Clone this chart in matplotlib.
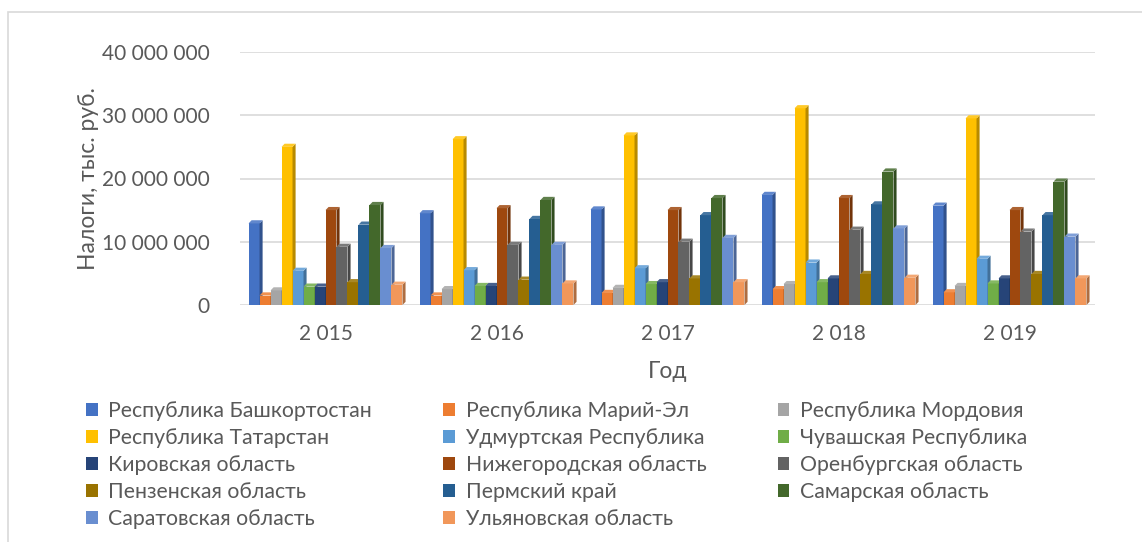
import matplotlib
matplotlib.use("Agg")
import matplotlib.pyplot as plt
from matplotlib.patches import Polygon, Rectangle
from matplotlib.ticker import FuncFormatter
import matplotlib.colors as mcolors
import numpy as np

plt.rcParams['font.family'] = ['Lato', 'DejaVu Sans']

years = ["2 015", "2 016", "2 017", "2 018", "2 019"]
regions = [
    "Республика Башкортостан", "Республика Марий-Эл", "Республика Мордовия",
    "Республика Татарстан", "Удмуртская Республика", "Чувашская Республика",
    "Кировская область", "Нижегородская область", "Оренбургская область",
    "Пензенская область", "Пермский край", "Самарская область",
    "Саратовская область", "Ульяновская область",
]
colors = ["#4472C4", "#ED7D31", "#A5A5A5", "#FFC000", "#5B9BD5", "#70AD47",
          "#264478", "#9E480E", "#636363", "#997300", "#255E91", "#43682B",
          "#698ED0", "#F1975A"]

# values, millions (axis is in thousand rubles; scaled by 1e6 when drawn)
bashkortostan = [13.4, 15.0, 15.6, 17.9, 16.2]
mari_el       = [2.0, 2.0, 2.4, 3.0, 2.5]
mordovia      = [2.8, 3.0, 3.2, 3.8, 3.5]
tatarstan     = [25.5, 26.7, 27.3, 31.6, 30.0]
udmurtia      = [5.9, 6.0, 6.3, 7.2, 7.8]
chuvashia     = [3.4, 3.5, 3.8, 4.1, 3.9]
kirov         = [3.4, 3.5, 4.1, 4.7, 4.7]
nizhny        = [15.5, 15.8, 15.5, 17.4, 15.5]
orenburg      = [9.7, 10.0, 10.5, 12.4, 12.1]
penza         = [4.1, 4.5, 4.7, 5.4, 5.4]
perm          = [13.2, 14.1, 14.7, 16.4, 14.7]
samara        = [16.3, 17.1, 17.4, 21.6, 20.0]
saratov       = [9.5, 10.0, 11.1, 12.6, 11.3]
ulyanovsk     = [3.7, 3.9, 4.1, 4.8, 4.7]

series = [bashkortostan, mari_el, mordovia, tatarstan, udmurtia, chuvashia,
          kirov, nizhny, orenburg, penza, perm, samara, saratov, ulyanovsk]

fig = plt.figure(figsize=(11.42, 5.42), dpi=100)
W, H = 1142, 542
fig.patches.append(Rectangle((8 / W, -0.1), 1.2, 1 - 12 / H + 0.1, transform=fig.transFigure,
                             fill=False, edgecolor="#D9D9D9", linewidth=1.2))

ax = fig.add_axes([240 / W, 1 - 305 / H, 855 / W, 253 / H])
ax.set_xlim(-0.5, 4.5)
ax.set_ylim(0, 40e6)

n = len(series)
bw = 0.0643
x = np.arange(len(years))
dx = 0.018
dy = 0.5e6
text_c = "#595959"

def shade(c, f):
    r, g, b = mcolors.to_rgb(c)
    return (r * f, g * f, b * f)

def tint(c, f):
    r, g, b = mcolors.to_rgb(c)
    return (r + (1 - r) * f, g + (1 - g) * f, b + (1 - b) * f)

handles = []
for i, (vals, col) in enumerate(zip(series, colors)):
    v = np.array(vals) * 1e6
    xs = x + (i - (n - 1) / 2) * bw
    z = 3 + i
    front = v - dy  # the 3D top face reaches the value
    bars = ax.bar(xs, front, width=bw, color=col, zorder=z, linewidth=0, label=regions[i])
    handles.append(bars)
    for xc, val in zip(xs, front):
        x0, x1 = xc - bw / 2, xc + bw / 2
        side = Polygon([(x1, 0), (x1 + dx, dy), (x1 + dx, val + dy), (x1, val)],
                       closed=True, facecolor=shade(col, 0.72), edgecolor="none", zorder=z)
        top = Polygon([(x0, val), (x1, val), (x1 + dx, val + dy), (x0 + dx, val + dy)],
                      closed=True, facecolor=tint(col, 0.15), edgecolor="none", zorder=z)
        ax.add_patch(side)
        ax.add_patch(top)

ax.set_yticks(np.arange(0, 40e6 + 1, 10e6))
ax.yaxis.set_major_formatter(FuncFormatter(lambda v, p: f"{int(v):,}".replace(",", " ")))
ax.grid(axis="y", color="#D9D9D9", linewidth=1.2, zorder=0)
ax.set_axisbelow(True)
ax.set_xticks(x)
ax.set_xticklabels(years)
for s in ax.spines.values():
    s.set_visible(False)
ax.tick_params(axis="both", length=0, colors=text_c, labelsize=15)
ax.tick_params(axis="y", pad=22)
ax.tick_params(axis="x", pad=14)

ax.set_ylabel("Налоги, тыс. руб.", fontsize=16.5, color=text_c, labelpad=2)
ax.set_xlabel("Год", fontsize=16.5, color=text_c, labelpad=12)

order = [0, 3, 6, 9, 12, 1, 4, 7, 10, 13, 2, 5, 8, 11]
leg = fig.legend([handles[k] for k in order], [regions[k] for k in order],
                 ncol=3, loc="upper left", bbox_to_anchor=(86 / W, 1 - 401 / H),
                 frameon=False, fontsize=15.3, handlelength=0.55, handleheight=0.55,
                 handletextpad=0.5, columnspacing=3.35, labelspacing=0.33,
                 borderaxespad=0, borderpad=0)
for t in leg.get_texts():
    t.set_color(text_c)

fig.savefig("out.png", dpi=100)
